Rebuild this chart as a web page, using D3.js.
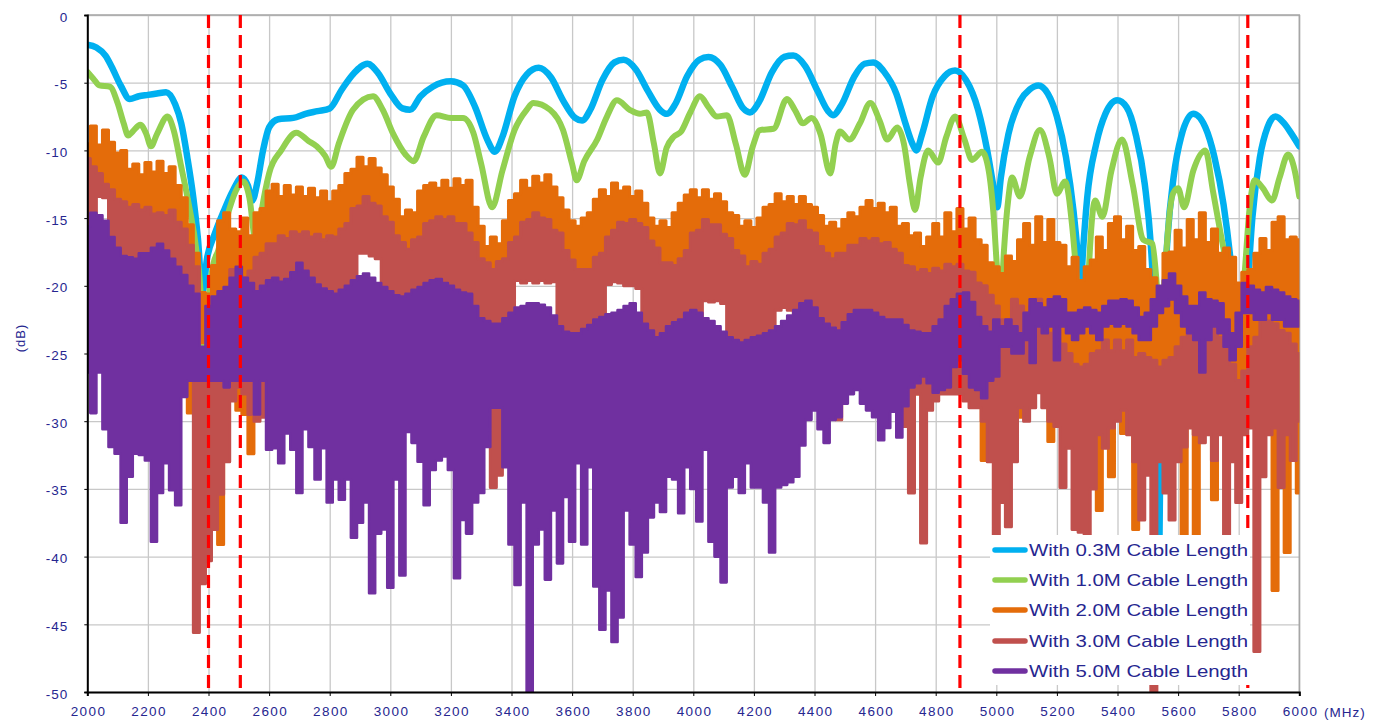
<!DOCTYPE html>
<html><head><meta charset="utf-8">
<script src="https://cdn.jsdelivr.net/npm/d3@7"></script>
<style>
html,body{margin:0;padding:0;background:#fff;}
svg{display:block;}
</style></head>
<body><svg id="chart" width="1387" height="724"></svg>
<script>
// ---------------- DATA ----------------
const xTickValues = [2000,2200,2400,2600,2800,3000,3200,3400,3600,3800,4000,4200,4400,4600,4800,5000,5200,5400,5600,5800,6000];
const yTickValues = [0,-5,-10,-15,-20,-25,-30,-35,-40,-45,-50];
const markerFreqs = [2400, 2505, 4880, 5830];
const seriesNames = ["With 0.3M Cable Length","With 1.0M Cable Length","With 2.0M Cable Length","With 3.0M Cable Length","With 5.0M Cable Length"];
const seriesColors = ["#00B0F0","#92D050","#E46C0A","#C0504D","#7030A0"];

// smooth traces (MHz, dB)
const blueFreq = [2000,2030,2060,2080,2110,2140,2170,2200,2230,2260,2290,2310,2330,2350,2365,2380,2395,2420,2450,2480,2510,2530,2545,2560,2580,2600,2630,2680,2720,2760,2800,2840,2880,2925,2960,3000,3040,3065,3100,3140,3200,3240,3280,3320,3345,3370,3410,3450,3490,3530,3570,3610,3633,3660,3700,3740,3770,3810,3850,3890,3913,3940,3980,4020,4050,4090,4130,4165,4187,4215,4260,4300,4330,4370,4410,4445,4461,4490,4530,4565,4594,4630,4670,4700,4725,4736,4755,4790,4830,4864,4900,4940,4970,4990,5003,5015,5040,5080,5110,5139,5170,5200,5230,5255,5270,5278,5286,5300,5330,5360,5399,5430,5460,5490,5510,5522,5532,5537,5542,5552,5565,5585,5610,5650,5690,5720,5750,5775,5795,5811,5825,5845,5870,5895,5921,5950,5975,6000];
const blueDb = [-2.2,-2.4,-3.0,-3.8,-5.2,-6.2,-6.0,-5.9,-5.8,-5.7,-6.6,-8.0,-10.5,-13.5,-16.5,-20.5,-18.0,-16.2,-14.5,-13.0,-12.0,-12.6,-13.7,-12.5,-10.0,-8.3,-7.7,-7.6,-7.3,-7.1,-6.9,-5.5,-4.3,-3.6,-4.3,-5.8,-6.9,-7.0,-6.0,-5.3,-4.9,-5.2,-6.8,-9.2,-10.1,-9.0,-6.0,-4.4,-3.9,-4.6,-6.3,-7.6,-7.8,-7.0,-4.8,-3.5,-3.3,-4.0,-5.6,-7.0,-7.3,-6.6,-4.5,-3.3,-3.1,-3.7,-5.4,-6.9,-7.2,-6.5,-4.2,-3.1,-3.0,-3.8,-5.6,-7.1,-7.4,-6.6,-4.6,-3.6,-3.5,-4.2,-5.8,-8.0,-9.6,-10.0,-8.8,-6.0,-4.5,-4.1,-4.8,-7.0,-10.0,-12.6,-14.2,-12.0,-8.8,-6.3,-5.5,-5.2,-5.8,-7.5,-10.5,-14.5,-18.0,-20.3,-17.5,-13.5,-9.5,-7.3,-6.3,-6.8,-8.8,-12.5,-17.0,-22.0,-30.0,-42.0,-30.0,-22.0,-16.5,-12.0,-9.0,-7.3,-8.3,-10.5,-14.0,-18.5,-23.5,-28.0,-22.0,-15.0,-10.5,-8.3,-7.5,-8.0,-8.8,-9.7];

const greenFreq = [2000,2020,2040,2075,2100,2120,2135,2150,2175,2195,2210,2230,2265,2285,2310,2335,2360,2375,2383,2387,2392,2400,2415,2432,2460,2490,2515,2535,2558,2575,2600,2640,2690,2730,2757,2785,2805,2830,2877,2943,2975,3010,3050,3077,3110,3153,3200,3240,3274,3300,3336,3370,3410,3450,3472,3527,3570,3600,3615,3640,3683,3715,3748,3790,3824,3847,3870,3890,3912,3935,3960,3990,4022,4050,4078,4111,4140,4170,4195,4220,4265,4309,4335,4362,4390,4420,4452,4470,4484,4515,4550,4584,4615,4640,4673,4695,4715,4732,4750,4775,4808,4835,4864,4895,4920,4953,4975,4990,5005,5015,5025,5040,5052,5078,5110,5144,5175,5200,5227,5250,5268,5280,5292,5305,5326,5350,5380,5415,5450,5485,5515,5530,5545,5560,5583,5600,5620,5650,5690,5715,5740,5765,5790,5805,5820,5835,5853,5880,5910,5935,5963,5985,6000];
const greenDb = [-4.2,-4.7,-5.2,-5.3,-6.5,-8.0,-8.9,-8.6,-8.1,-8.8,-9.7,-8.8,-7.5,-8.5,-11.2,-14.0,-17.4,-21.0,-30.0,-39.0,-30.0,-21.5,-18.5,-17.4,-15.0,-13.0,-12.3,-13.5,-17.1,-14.5,-11.7,-10.0,-8.7,-9.3,-9.7,-10.4,-11.2,-9.5,-7.0,-6.0,-7.0,-8.8,-10.3,-10.8,-9.0,-7.4,-7.6,-7.6,-8.7,-11.0,-14.2,-11.5,-8.5,-7.0,-6.5,-7.0,-8.5,-11.0,-12.2,-10.8,-9.2,-7.5,-6.3,-7.0,-7.3,-7.2,-9.5,-11.7,-9.8,-9.0,-8.6,-7.2,-6.0,-6.8,-7.5,-7.4,-9.5,-11.8,-9.8,-8.5,-8.4,-6.2,-7.0,-8.0,-7.6,-8.8,-11.7,-9.5,-8.6,-9.2,-8.0,-6.5,-7.8,-9.2,-8.3,-9.5,-12.5,-14.4,-12.0,-10.0,-10.9,-9.0,-7.5,-9.2,-10.7,-10.1,-11.5,-14.5,-19.5,-21.5,-17.5,-13.5,-12.0,-13.4,-10.5,-8.5,-10.5,-13.2,-12.3,-15.5,-20.5,-25.0,-26.5,-19.0,-13.7,-14.9,-11.5,-9.2,-12.5,-16.6,-16.9,-20.0,-24.5,-18.0,-13.2,-12.8,-14.2,-11.5,-10.0,-13.0,-16.1,-19.0,-22.0,-23.0,-19.0,-14.5,-12.2,-12.8,-13.7,-12.0,-10.3,-11.5,-13.4];

// noisy traces: upper / lower envelope per 20 MHz bin, 2000..6000 MHz
const binStart = 2000, binStep = 20;
const orangeHi = [
-9.5,-8.2,-9.6,-8.5,-9.4,-10.2,-10.0,-11.4,-11.0,-11.8,
-10.9,-11.6,-10.8,-11.7,-11.2,-12.6,-13.5,-15.5,-17.6,-20.5,
-20.6,-18.5,-15.2,-14.6,-15.8,-16.0,-15.0,-16.3,-14.6,-14.3,
-13.0,-12.5,-13.4,-12.6,-13.3,-12.7,-13.4,-12.8,-13.5,-13.0,
-13.8,-13.0,-12.6,-11.7,-11.4,-10.5,-11.2,-10.6,-11.3,-11.8,
-12.7,-13.6,-14.9,-14.4,-14.6,-13.0,-12.6,-12.4,-12.8,-12.2,
-12.8,-12.1,-12.6,-12.2,-14.2,-15.6,-17.1,-16.4,-16.9,-15.2,
-13.7,-13.2,-12.2,-12.8,-11.9,-12.4,-11.8,-12.7,-13.5,-14.4,
-15.2,-15.6,-15.0,-14.6,-13.6,-12.9,-13.4,-12.4,-13.0,-12.7,
-13.4,-13.0,-13.9,-15.0,-15.6,-15.2,-15.7,-14.6,-13.9,-13.3,
-12.9,-13.5,-12.9,-13.6,-13.2,-13.8,-14.6,-14.8,-15.6,-15.2,
-15.7,-15.0,-14.2,-14.0,-13.2,-13.8,-13.4,-14.0,-13.4,-14.0,
-14.2,-14.8,-15.6,-15.3,-15.8,-15.1,-14.6,-14.9,-14.2,-13.7,
-14.3,-13.9,-14.6,-14.2,-15.6,-15.4,-16.3,-16.1,-17.1,-16.4,
-15.4,-16.4,-14.6,-16.0,-14.3,-15.8,-15.0,-16.6,-17.0,-18.3,
-18.6,-19.1,-17.8,-18.2,-16.6,-15.4,-17.0,-14.9,-16.8,-15.1,
-16.8,-17.0,-18.6,-17.9,-19.6,-18.6,-18.1,-16.4,-17.4,-15.4,
-14.9,-16.6,-15.6,-17.4,-17.1,-18.8,-19.4,-20.5,-17.6,-17.5,
-15.9,-17.2,-15.1,-16.6,-14.6,-16.8,-15.8,-17.6,-17.2,-17.9,
-19.8,-19.0,-18.8,-17.6,-16.5,-17.4,-15.3,-14.9,-16.6,-16.4,
-16.6];
const orangeLo = [
-12.5,-12.8,-12.8,-13.0,-14.5,-15.5,-15.8,-16.0,-16.0,-16.2,
-16.3,-16.5,-16.8,-16.6,-16.5,-17.0,-20.0,-29.4,-25.0,-24.2,
-23.5,-24.0,-39.1,-22.0,-25.0,-29.2,-29.5,-32.4,-22.0,-20.0,
-19.0,-18.6,-18.3,-18.1,-18.0,-17.9,-18.0,-18.1,-18.2,-18.4,
-18.3,-18.0,-17.8,-17.0,-16.3,-15.8,-15.4,-15.7,-16.1,-16.6,
-17.3,-18.0,-18.8,-19.0,-18.6,-18.1,-17.4,-16.9,-16.9,-16.7,
-16.9,-17.1,-17.4,-17.8,-18.8,-19.7,-20.3,-20.6,-20.2,-19.7,
-18.8,-18.1,-17.3,-16.8,-16.6,-16.8,-17.1,-17.6,-18.1,-19.1,
-20.1,-20.5,-20.8,-20.5,-19.9,-19.3,-18.4,-17.6,-17.3,-17.1,
-17.1,-17.1,-17.7,-18.4,-19.2,-20.0,-20.3,-20.2,-20.0,-19.1,
-18.1,-17.6,-17.1,-17.2,-17.5,-17.9,-18.5,-19.1,-19.8,-20.3,
-20.2,-20.1,-19.6,-19.0,-18.4,-17.8,-17.4,-17.2,-17.2,-17.6,
-18.1,-18.8,-19.6,-19.7,-19.6,-19.3,-19.0,-18.7,-18.5,-18.4,
-18.5,-18.6,-18.8,-19.0,-27.0,-27.5,-27.0,-28.0,-27.5,-28.0,
-27.0,-27.0,-27.0,-27.0,-27.0,-27.0,-28.0,-28.0,-32.9,-28.0,
-30.0,-28.0,-28.0,-27.0,-29.7,-27.0,-27.0,-26.0,-27.0,-31.5,
-28.0,-28.0,-28.0,-28.0,-28.0,-29.0,-33.0,-36.6,-30.0,-34.1,
-29.0,-30.9,-28.0,-38.0,-29.0,-28.0,-28.0,-28.0,-28.0,-28.0,
-29.0,-38.5,-29.0,-38.5,-29.0,-30.0,-35.8,-29.0,-30.0,-30.0,
-30.0,-28.0,-29.0,-29.0,-29.0,-30.0,-42.5,-30.0,-39.7,-29.0,
-35.3];
const redHi = [
-10.6,-11.2,-11.7,-12.5,-12.9,-13.6,-13.8,-14.2,-14.0,-14.4,
-14.2,-14.7,-14.6,-14.8,-14.4,-15.3,-15.8,-17.0,-18.6,-26.5,
-26.5,-26.5,-26.0,-22.0,-18.8,-19.3,-19.4,-18.9,-17.9,-17.6,
-16.9,-16.9,-16.3,-16.5,-16.0,-16.2,-16.0,-16.4,-16.2,-16.6,
-16.3,-16.4,-15.8,-15.4,-14.3,-14.1,-13.4,-13.9,-14.1,-14.9,
-15.3,-16.3,-16.8,-17.3,-16.6,-16.4,-15.4,-15.2,-14.9,-15.1,
-14.9,-15.4,-15.4,-16.1,-16.8,-18.0,-18.3,-18.8,-18.2,-18.0,
-16.8,-16.4,-15.3,-15.1,-14.6,-15.0,-15.1,-15.9,-16.1,-17.4,
-18.1,-18.8,-18.8,-18.8,-17.9,-17.6,-16.4,-15.9,-15.3,-15.4,
-15.1,-15.4,-15.7,-16.7,-17.2,-18.3,-18.3,-18.5,-18.0,-17.4,
-16.1,-15.9,-15.1,-15.5,-15.5,-16.2,-16.5,-17.4,-17.8,-18.6,
-18.2,-18.4,-17.6,-17.3,-16.4,-16.1,-15.4,-15.5,-15.2,-15.9,
-16.1,-17.1,-17.6,-18.0,-17.6,-17.6,-17.0,-17.0,-16.5,-16.7,
-16.5,-16.9,-16.8,-17.3,-17.6,-18.5,-18.6,-19.0,-18.8,-19.1,
-18.7,-18.9,-18.4,-18.6,-18.4,-18.9,-19.0,-19.8,-20.0,-20.7,
-21.5,-22.5,-22.5,-21.0,-21.5,-22.0,-21.5,-21.0,-22.0,-23.5,
-23.0,-24.3,-25.0,-25.8,-26.0,-25.8,-25.0,-24.8,-24.0,-24.8,
-24.0,-24.8,-24.0,-25.3,-25.0,-25.3,-25.5,-26.0,-25.5,-25.3,
-24.5,-23.8,-22.3,-22.8,-23.0,-22.8,-22.6,-23.8,-24.5,-25.8,
-27.0,-26.3,-24.5,-23.8,-22.5,-22.6,-22.8,-23.3,-23.5,-24.3,
-25.0];
const redLo = [
-16.0,-15.5,-13.4,-13.5,-17.0,-18.5,-19.0,-19.5,-19.5,-19.5,
-19.5,-19.0,-19.0,-19.0,-19.5,-20.0,-20.5,-27.0,-45.6,-42.0,
-40.3,-38.0,-35.4,-33.0,-28.5,-27.5,-28.0,-29.5,-30.0,-29.7,
-21.5,-21.5,-21.5,-21.5,-21.0,-20.5,-21.0,-21.5,-22.0,-22.2,
-22.5,-22.5,-22.5,-22.0,-21.5,-17.6,-17.6,-17.8,-18.0,-22.0,
-22.5,-22.5,-23.0,-23.0,-22.5,-22.0,-22.0,-21.5,-21.5,-21.5,
-22.0,-22.3,-22.5,-22.5,-23.5,-24.5,-24.5,-34.9,-34.0,-24.5,
-24.0,-19.6,-19.8,-19.6,-19.8,-19.6,-19.8,-19.7,-24.0,-25.0,
-25.5,-25.5,-25.0,-25.0,-24.5,-24.5,-19.9,-19.7,-19.8,-20.0,
-20.0,-20.2,-24.5,-25.0,-25.5,-25.5,-25.0,-24.5,-24.5,-24.0,
-24.0,-24.0,-21.1,-21.2,-21.1,-21.3,-25.5,-26.0,-26.0,-26.0,
-25.5,-25.5,-25.5,-25.0,-21.8,-21.6,-21.8,-24.0,-23.5,-23.0,
-23.5,-24.0,-25.0,-25.0,-29.9,-24.5,-24.0,-23.8,-23.8,-23.8,
-24.0,-24.0,-24.5,-24.5,-28.9,-30.4,-35.3,-28.0,-39.0,-29.2,
-28.5,-28.0,-28.0,-28.0,-28.0,-28.5,-29.0,-29.0,-30.0,-33.0,
-38.5,-36.0,-37.8,-33.0,-29.0,-30.0,-29.0,-27.9,-29.0,-30.0,
-30.4,-34.9,-32.0,-38.0,-38.2,-38.5,-35.0,-31.0,-32.0,-30.5,
-30.0,-29.2,-31.0,-33.0,-37.3,-34.0,-50.0,-33.0,-35.3,-37.3,
-33.0,-31.9,-30.5,-31.0,-31.6,-31.0,-32.9,-31.0,-38.8,-33.0,
-36.0,-31.0,-30.5,-47.0,-34.1,-31.0,-30.5,-34.9,-31.0,-32.9,
-30.0];
const purpleHi = [
-15.6,-14.6,-14.8,-15.2,-16.4,-17.2,-17.8,-17.9,-18.0,-17.6,
-17.6,-17.2,-16.9,-17.4,-18.0,-18.6,-19.2,-20.0,-20.6,-24.5,
-21.5,-20.8,-20.4,-20.1,-19.4,-18.6,-19.4,-19.8,-20.4,-20.0,
-19.6,-19.4,-19.7,-19.5,-19.0,-18.3,-18.9,-19.4,-19.9,-20.2,
-20.4,-20.6,-20.3,-20.0,-19.6,-19.3,-19.1,-19.4,-19.8,-20.1,
-20.4,-20.7,-20.8,-20.6,-20.3,-20.1,-19.8,-19.6,-19.5,-19.8,
-20.0,-20.3,-20.5,-20.6,-21.5,-22.4,-22.6,-22.8,-22.8,-22.4,
-22.0,-21.6,-21.5,-21.3,-21.3,-21.4,-21.6,-22.2,-23.0,-23.4,
-23.5,-23.5,-23.2,-22.9,-22.5,-22.3,-22.1,-22.0,-21.8,-21.5,
-21.3,-22.0,-22.8,-23.3,-23.8,-23.5,-23.0,-22.7,-22.5,-22.0,
-21.8,-22.0,-22.4,-22.6,-23.0,-23.4,-23.8,-24.0,-24.2,-24.0,
-23.8,-23.7,-23.5,-23.3,-23.0,-22.6,-22.2,-21.8,-21.3,-21.1,
-21.6,-22.4,-22.8,-23.1,-23.3,-22.7,-22.1,-21.8,-21.8,-21.8,
-22.0,-22.3,-22.5,-22.5,-22.5,-22.9,-23.3,-23.4,-23.5,-23.5,
-23.0,-22.5,-21.5,-21.0,-20.6,-20.5,-21.2,-22.3,-23.0,-23.4,
-22.5,-23.0,-22.5,-23.0,-23.5,-22.0,-21.0,-21.3,-21.6,-21.0,
-20.8,-21.0,-22.0,-22.0,-21.8,-21.6,-21.8,-22.0,-21.5,-21.1,
-21.1,-21.0,-21.1,-21.6,-22.3,-22.0,-21.0,-20.0,-19.6,-19.1,
-20.0,-20.8,-21.5,-21.5,-20.5,-21.0,-21.1,-21.3,-22.5,-23.5,
-22.0,-19.8,-20.0,-20.3,-20.5,-20.1,-20.3,-20.5,-20.8,-21.0,
-21.1];
const purpleLo = [
-26.4,-29.4,-26.4,-30.6,-31.9,-32.4,-37.5,-34.1,-32.4,-32.5,
-32.9,-38.9,-35.3,-33.1,-35.1,-36.2,-28.2,-27.0,-27.0,-27.0,
-27.0,-27.0,-27.0,-27.5,-27.0,-27.0,-27.0,-27.0,-29.5,-27.0,
-32.1,-32.0,-33.1,-30.9,-32.1,-35.3,-30.6,-31.9,-34.3,-32.0,
-36.0,-34.3,-35.8,-34.3,-38.6,-37.5,-36.0,-42.7,-38.3,-38.0,
-42.3,-34.3,-41.4,-30.8,-31.6,-33.0,-36.2,-33.6,-32.9,-32.6,
-33.6,-41.6,-37.3,-38.3,-36.0,-35.3,-31.9,-29.0,-29.0,-33.4,
-39.1,-42.1,-36.0,-50.0,-39.1,-38.0,-41.7,-36.6,-40.5,-35.6,
-38.9,-33.1,-39.1,-33.4,-42.2,-45.4,-42.5,-46.3,-44.5,-36.6,
-39.1,-41.5,-39.7,-37.1,-36.0,-36.7,-34.1,-34.3,-36.8,-33.4,
-35.0,-37.4,-32.1,-38.9,-40.0,-41.9,-34.9,-34.1,-35.3,-33.1,
-34.9,-34.9,-36.0,-39.7,-34.9,-34.7,-34.5,-34.1,-31.8,-29.9,
-29.2,-30.6,-31.6,-29.9,-29.7,-28.7,-28.0,-27.7,-28.7,-29.2,
-29.7,-31.4,-30.5,-29.3,-31.2,-28.9,-27.5,-27.2,-26.7,-27.2,
-27.9,-27.7,-27.5,-26.0,-25.5,-26.5,-27.5,-27.7,-28.3,-27.0,
-26.7,-24.5,-24.5,-25.0,-25.0,-24.0,-25.7,-23.0,-23.5,-23.0,
-25.5,-23.0,-23.5,-24.0,-23.5,-23.0,-23.5,-24.0,-23.0,-22.8,
-23.0,-22.8,-23.0,-23.5,-24.0,-24.0,-23.0,-22.0,-21.5,-21.0,
-22.0,-23.0,-23.5,-24.0,-26.4,-24.0,-23.0,-23.5,-24.5,-25.5,
-24.5,-22.0,-22.0,-22.5,-22.5,-22.0,-22.5,-22.5,-23.0,-23.0,
-23.0];

// ---------------- CHART ----------------
const svg = d3.select("#chart");
const X0 = 87.3, X1 = 1299.3, Y0 = 15, Y1 = 692;
const x = d3.scaleLinear().domain([2000, 6000]).range([X0, X1]);
const y = d3.scaleLinear().domain([-50, 0]).range([Y1, Y0]);
const navy = "#262690";
const font = "'Liberation Sans', Arial, sans-serif";

svg.append("rect").attr("width",1387).attr("height",724).attr("fill","#fff");

// grid
const grid = svg.append("g");
grid.append("g").attr("transform",`translate(0,${Y1})`)
  .call(d3.axisBottom(x).tickValues(xTickValues).tickSize(-(Y1-Y0)).tickFormat(""))
  .call(g=>{g.select(".domain").remove(); g.selectAll("line").attr("stroke","#c8c8c8").attr("stroke-width",1.3);});
grid.append("g").attr("transform",`translate(${X0},0)`)
  .call(d3.axisLeft(y).tickValues(yTickValues).tickSize(-(X1-X0)).tickFormat(""))
  .call(g=>{g.select(".domain").remove(); g.selectAll("line").attr("stroke","#c8c8c8").attr("stroke-width",1.3);});
svg.append("path").attr("d",`M${X0},${Y0}H${X1}V${Y1}`).attr("fill","none").attr("stroke","#a6a6a6").attr("stroke-width",1.5);

svg.append("clipPath").attr("id","plotclip").append("rect")
  .attr("x",X0).attr("y",Y0-6).attr("width",X1-X0).attr("height",Y1-Y0+6);
const plot = svg.append("g").attr("clip-path","url(#plotclip)");

const smoothLine = d3.line().x(d=>x(d[0])).y(d=>y(d[1])).curve(d3.curveMonotoneX);
const bandArea = d3.area().x(d=>x(d.f)).y0(d=>y(d.lo)).y1(d=>y(d.hi)).curve(d3.curveStep);

function zipPairs(fs, vs){ return fs.map((f,i)=>[f, vs[i]]); }
function bins(hi, lo){ return hi.map((h,i)=>({f: binStart + i*binStep, hi: h, lo: lo[i]})); }

plot.append("path").datum(zipPairs(blueFreq, blueDb)).attr("d", smoothLine)
  .attr("fill","none").attr("stroke",seriesColors[0]).attr("stroke-width",6.5).attr("stroke-linejoin","round").attr("stroke-linecap","round");
plot.append("path").datum(zipPairs(greenFreq, greenDb)).attr("d", smoothLine)
  .attr("fill","none").attr("stroke",seriesColors[1]).attr("stroke-width",6).attr("stroke-linejoin","round").attr("stroke-linecap","round");
[[orangeHi,orangeLo,2,3],[redHi,redLo,3,3],[purpleHi,purpleLo,4,2.6]].forEach(([hi,lo,ci,sw])=>{
  plot.append("path").datum(bins(hi,lo)).attr("d", bandArea)
    .attr("fill",seriesColors[ci]).attr("stroke",seriesColors[ci]).attr("stroke-width",sw)
    .attr("stroke-linejoin","round");
});

// marker dashed lines
svg.append("g").selectAll("line").data(markerFreqs).join("line")
  .attr("x1",d=>x(d)).attr("x2",d=>x(d)).attr("y1",Y0).attr("y2",Y1)
  .attr("stroke","#FF0000").attr("stroke-width",3.2).attr("stroke-dasharray","13,7");

// axes
const xAxis = svg.append("g").attr("transform",`translate(0,${Y1})`)
  .call(d3.axisBottom(x).tickValues(xTickValues).tickSize(4).tickPadding(10).tickFormat(d=>String(d)));
xAxis.select(".domain").attr("stroke","#000").attr("stroke-width",2);
xAxis.selectAll("line").attr("stroke","#000");
xAxis.selectAll("text").attr("fill",navy).attr("font-family",font).attr("font-size",13.5).attr("letter-spacing","1.4px").attr("dx","0.7px");

const yAxis = svg.append("g").attr("transform",`translate(${X0},0)`)
  .call(d3.axisLeft(y).tickValues(yTickValues).tickSize(3).tickPadding(16).tickFormat(d=>String(d)));
yAxis.select(".domain").attr("stroke","#000").attr("stroke-width",2);
yAxis.selectAll("line").attr("stroke","#000");
yAxis.selectAll("text").attr("fill",navy).attr("font-family",font).attr("font-size",13.5).attr("letter-spacing","1px").attr("dy","0.45em");

svg.append("text").attr("x",1324).attr("y",717).attr("fill",navy).attr("font-family",font)
  .attr("font-size",13.5).attr("letter-spacing","1px").text("(MHz)");
svg.append("text").attr("transform","translate(25,338) rotate(-90)").attr("text-anchor","middle")
  .attr("fill",navy).attr("font-family",font).attr("font-size",13).attr("letter-spacing","1px").text("(dB)");

// legend
const lg = svg.append("g");
lg.append("rect").attr("x",990).attr("y",535).attr("width",260).attr("height",150).attr("fill","#fff");
const rowsY = [550, 580, 610, 641, 671];
seriesNames.forEach((name,i)=>{
  lg.append("line").attr("x1",995).attr("x2",1025).attr("y1",rowsY[i]).attr("y2",rowsY[i])
    .attr("stroke",seriesColors[i]).attr("stroke-width",5.5).attr("stroke-linecap","round");
  lg.append("text").attr("x",1029).attr("y",rowsY[i]).attr("dy","0.36em")
    .attr("fill",navy).attr("font-family",font).attr("font-size",16)
    .attr("textLength",219).attr("lengthAdjust","spacingAndGlyphs").text(name);
});
</script>
</body></html>
